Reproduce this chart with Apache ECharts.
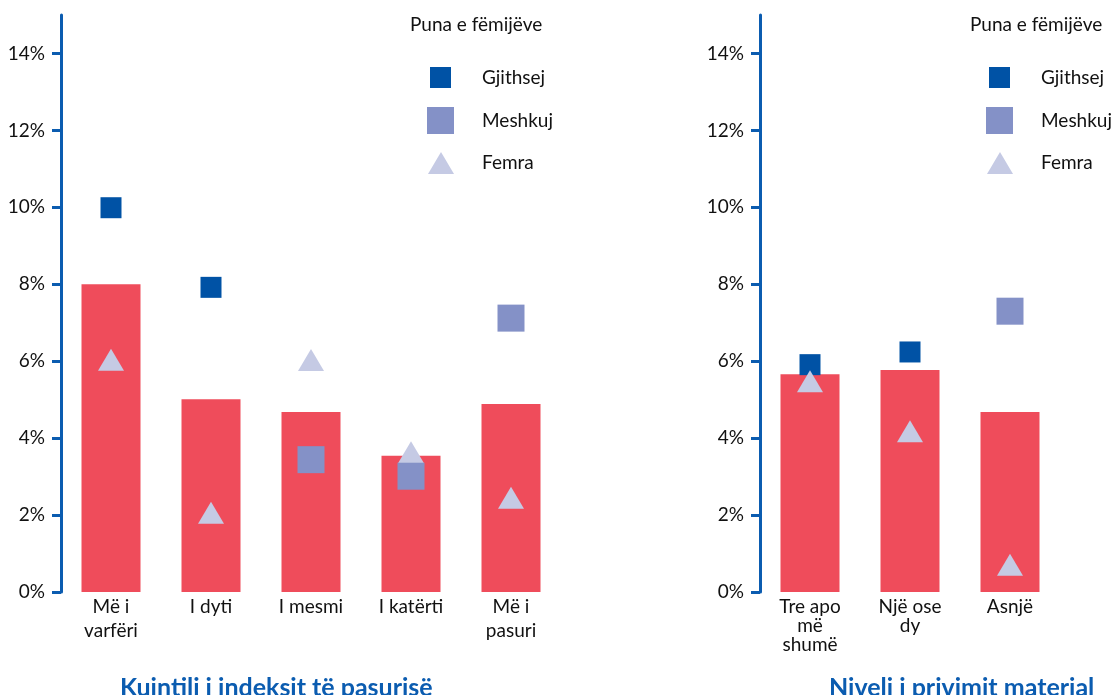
<!DOCTYPE html>
<html><head><meta charset="utf-8">
<script src="https://cdn.jsdelivr.net/npm/echarts@6/dist/echarts.min.js"></script>
<style>html,body{margin:0;padding:0;background:#fff}#c{width:1119px;height:695px}</style>
</head><body><div id="c"></div>
<script>
// Left panel: wealth index quintile
const catsWealth = ['Më i\nvarfëri', 'I dyti', 'I mesmi', 'I katërti', 'Më i\npasuri'];
const barWealth = [8.0, 5.01, 4.68, 3.54, 4.89];
const gjithsejWealth = [9.99, 7.92, null, null, null];
const meshkujWealth = [null, null, 3.44, 3.01, 7.12];
const femraWealth = [6.04, 2.06, 6.03, 3.63, 2.45];

// Right panel: material deprivation level
const catsDep = ['Tre apo\nmë\nshumë', 'Një ose\ndy', 'Asnjë'];
const barDep = [5.66, 5.77, 4.68];
const gjithsejDep = [5.91, 6.24, null];
const meshkujDep = [null, null, 7.30];
const femraDep = [5.48, 4.18, 0.71];

const yTicks = [0, 2, 4, 6, 8, 10, 12, 14];
const FONT = 'Lato';
const FS = 19;
const AXIS = '#0B5CB0';
const C_BAR = '#EF4C5B', C_G = '#0052A5', C_M = '#8491C7', C_F = '#C5CAE4';

function yAx(gi) {
  return {
    gridIndex: gi, type: 'value', min: 0, max: 15, interval: 1,
    axisLine: {show: true, lineStyle: {color: AXIS, width: 3}},
    axisTick: {show: true, length: 9, lineStyle: {color: AXIS, width: 3}, customValues: yTicks},
    axisLabel: {customValues: yTicks, formatter: v => v + '%', margin: 16, fontFamily: FONT, fontSize: FS, color: '#111'},
    splitLine: {show: false}
  };
}
function xAx(gi, cats, lh, margin) {
  return {
    gridIndex: gi, type: 'category', data: cats,
    axisLine: {show: false}, axisTick: {show: false},
    axisLabel: {interval: 0, margin: margin, fontFamily: FONT, fontSize: FS, color: '#111', lineHeight: lh}
  };
}
function seriesFor(gi, bars, g, m, f) {
  return [
    {type: 'bar', xAxisIndex: gi, yAxisIndex: gi, data: bars, barWidth: 59, itemStyle: {color: C_BAR}, silent: true},
    {name: 'Gjithsej', type: 'scatter', xAxisIndex: gi, yAxisIndex: gi, data: g, symbol: 'rect', symbolSize: 21, itemStyle: {color: C_G, opacity: 1}, z: 3},
    {name: 'Femra', type: 'scatter', xAxisIndex: gi, yAxisIndex: gi, data: f, symbol: 'triangle', symbolSize: [26, 22], itemStyle: {color: C_F, opacity: 1}, z: 4},
    {name: 'Meshkuj', type: 'scatter', xAxisIndex: gi, yAxisIndex: gi, data: m, symbol: 'rect', symbolSize: 27, itemStyle: {color: C_M, opacity: 1}, z: 5}
  ];
}
function legendItem(name, icon, left, top, w, h, gapPad) {
  return {data: [{name: name, icon: icon}], left: left, top: top, itemWidth: w, itemHeight: h,
    selectedMode: false, padding: 0,
    textStyle: {fontFamily: FONT, fontSize: FS, color: '#111', padding: [0, 0, 0, gapPad]}};
}
function ttl(text, left, top, size, bold, color) {
  return {text: text, left: left, top: top, padding: 0,
    textStyle: {fontFamily: FONT, fontSize: size, fontWeight: bold ? 'bold' : 'normal', color: color}};
}

const chart = echarts.init(document.getElementById('c'), null, {renderer: 'canvas'});
chart.setOption({
  animation: false,
  backgroundColor: '#fff',
  title: [
    ttl('Puna e fëmijëve', 410, 15, FS, false, '#111'),
    ttl('Puna e fëmijëve', 970, 15, FS, false, '#111'),
    ttl('Kuintili i indeksit të pasurisë', 120, 675, 25, true, '#0B5CB0'),
    ttl('Niveli i privimit material', 829, 675, 25, true, '#0B5CB0')
  ],
  legend: [
    legendItem('Gjithsej', 'rect', 430, 67, 21, 21, 26),
    legendItem('Meshkuj', 'rect', 427, 107, 27, 27, 23),
    legendItem('Femra', 'triangle', 428, 152, 26, 22, 23),
    legendItem('Gjithsej', 'rect', 989, 67, 21, 21, 26),
    legendItem('Meshkuj', 'rect', 986, 107, 27, 27, 23),
    legendItem('Femra', 'triangle', 987, 152, 26, 22, 23)
  ],
  grid: [
    {left: 61, top: 15, width: 500, height: 577},
    {left: 760, top: 15, width: 300, height: 577}
  ],
  xAxis: [xAx(0, catsWealth, 24, 3), xAx(1, catsDep, 19, 5)],
  yAxis: [yAx(0), yAx(1)],
  series: [].concat(seriesFor(0, barWealth, gjithsejWealth, meshkujWealth, femraWealth),
                    seriesFor(1, barDep, gjithsejDep, meshkujDep, femraDep))
});
</script></body></html>
